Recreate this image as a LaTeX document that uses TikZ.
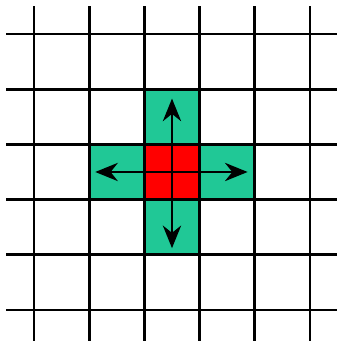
\documentclass[tikz,border=0pt]{standalone}
\usetikzlibrary{arrows.meta}
\definecolor{moveteal}{RGB}{32,200,150}
\begin{document}
\begin{tikzpicture}[
	x=1.656cm, y=-1.656cm,
	gridline/.style={ black, line width=2.4pt },
	movecell/.style={ rectangle, fill=moveteal, inner sep=0pt, minimum size=1.656cm },
	startcell/.style={ rectangle, fill=red, inner sep=0pt, minimum size=1.656cm },
	movearrow/.style={ black, line width=1.5pt, -{Stealth[length=0.68cm, width=0.55cm]} }
]
	\useasboundingbox (-0.616,-0.616) rectangle (5.489,5.562);

	\node[startcell] (start) at (2.5,2.5) {};
	\node[movecell] (up) at (2.5,1.5) {};
	\node[movecell] (down) at (2.5,3.5) {};
	\node[movecell] (left) at (1.5,2.5) {};
	\node[movecell] (right) at (3.5,2.5) {};

	\foreach \i in {0,...,5} { \draw[gridline] (\i,-0.507) -- (\i,5.562); }
	\foreach \i in {0,...,5} { \draw[gridline] (-0.507,\i) -- (5.489,\i); }

	\coordinate (upend) at (2.5,1.17);
	\coordinate (downend) at (2.5,3.88);
	\coordinate (leftend) at (1.11,2.5);
	\coordinate (rightend) at (3.87,2.5);

	\draw[movearrow] (start.center) -- (upend);
	\draw[movearrow] (start.center) -- (downend);
	\draw[movearrow] (start.center) -- (leftend);
	\draw[movearrow] (start.center) -- (rightend);

\end{tikzpicture}
\end{document}
